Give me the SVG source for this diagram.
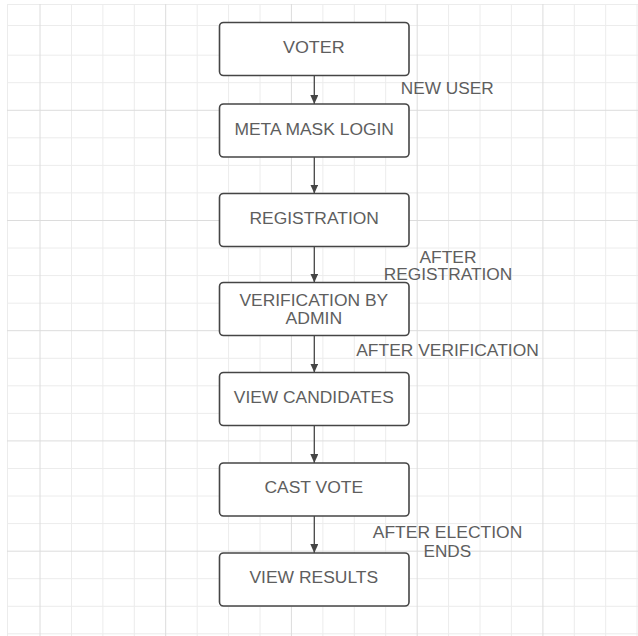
<svg xmlns="http://www.w3.org/2000/svg" width="638" height="636" viewBox="0 0 638 636">
<style>
.minor{stroke:#ececec;stroke-width:1}
.major{stroke:#dcdcdc;stroke-width:1}
.box{fill:#ffffff;stroke:#454545;stroke-width:1.6}
.t{font-family:"Liberation Sans",Arial,sans-serif;font-size:16px;fill:#5e5e5e;text-anchor:middle}
.conn{stroke:#454545;stroke-width:1.3;fill:none}
</style>
<defs>
<marker id="arr" markerUnits="userSpaceOnUse" markerWidth="10" markerHeight="10" refX="9" refY="4" orient="auto">
<path d="M0,0 L9,4 L0,8 z" fill="#454545"/>
</marker>
</defs>
<rect x="0" y="0" width="638" height="636" fill="#ffffff"/>
<g id="grid">
<g class="minor">
<line x1="7.5" y1="4" x2="7.5" y2="636"/>
<line x1="71.5" y1="4" x2="71.5" y2="636"/>
<line x1="102.9" y1="4" x2="102.9" y2="636"/>
<line x1="134.3" y1="4" x2="134.3" y2="636"/>
<line x1="197.2" y1="4" x2="197.2" y2="636"/>
<line x1="228.6" y1="4" x2="228.6" y2="636"/>
<line x1="260" y1="4" x2="260" y2="636"/>
<line x1="322.9" y1="4" x2="322.9" y2="636"/>
<line x1="354.3" y1="4" x2="354.3" y2="636"/>
<line x1="385.7" y1="4" x2="385.7" y2="636"/>
<line x1="448.6" y1="4" x2="448.6" y2="636"/>
<line x1="480" y1="4" x2="480" y2="636"/>
<line x1="511.4" y1="4" x2="511.4" y2="636"/>
<line x1="574.3" y1="4" x2="574.3" y2="636"/>
<line x1="605.7" y1="4" x2="605.7" y2="636"/>
<line x1="637" y1="4" x2="637" y2="636"/>
<line x1="7" y1="4.5" x2="638" y2="4.5"/>
<line x1="7" y1="25.5" x2="638" y2="25.5"/>
<line x1="7" y1="55.2" x2="638" y2="55.2"/>
<line x1="7" y1="82.7" x2="638" y2="82.7"/>
<line x1="7" y1="137.8" x2="638" y2="137.8"/>
<line x1="7" y1="165.4" x2="638" y2="165.4"/>
<line x1="7" y1="192.9" x2="638" y2="192.9"/>
<line x1="7" y1="248" x2="638" y2="248"/>
<line x1="7" y1="275.6" x2="638" y2="275.6"/>
<line x1="7" y1="303.2" x2="638" y2="303.2"/>
<line x1="7" y1="358.3" x2="638" y2="358.3"/>
<line x1="7" y1="385.8" x2="638" y2="385.8"/>
<line x1="7" y1="413.4" x2="638" y2="413.4"/>
<line x1="7" y1="468.5" x2="638" y2="468.5"/>
<line x1="7" y1="496" x2="638" y2="496"/>
<line x1="7" y1="523.6" x2="638" y2="523.6"/>
<line x1="7" y1="578.7" x2="638" y2="578.7"/>
<line x1="7" y1="606.3" x2="638" y2="606.3"/>
<line x1="7" y1="633.8" x2="638" y2="633.8"/>
</g>
<g class="major">
<line x1="40" y1="4" x2="40" y2="636"/>
<line x1="165.7" y1="4" x2="165.7" y2="636"/>
<line x1="291.4" y1="4" x2="291.4" y2="636"/>
<line x1="417.2" y1="4" x2="417.2" y2="636"/>
<line x1="542.9" y1="4" x2="542.9" y2="636"/>
<line x1="7" y1="110.3" x2="638" y2="110.3"/>
<line x1="7" y1="220.5" x2="638" y2="220.5"/>
<line x1="7" y1="330.7" x2="638" y2="330.7"/>
<line x1="7" y1="440.9" x2="638" y2="440.9"/>
<line x1="7" y1="551.2" x2="638" y2="551.2"/>
</g>
</g>
<g id="connectors">
<line class="conn" x1="314.3" y1="75.5" x2="314.3" y2="104" marker-end="url(#arr)"/>
<line class="conn" x1="314.3" y1="157" x2="314.3" y2="193.5" marker-end="url(#arr)"/>
<line class="conn" x1="314.3" y1="246.5" x2="314.3" y2="282.5" marker-end="url(#arr)"/>
<line class="conn" x1="314.3" y1="335.5" x2="314.3" y2="372.5" marker-end="url(#arr)"/>
<line class="conn" x1="314.3" y1="425.5" x2="314.3" y2="463" marker-end="url(#arr)"/>
<line class="conn" x1="314.3" y1="516" x2="314.3" y2="553" marker-end="url(#arr)"/>
</g>
<g id="labels">
<text class="t" x="447.3" y="94.3" textLength="93" lengthAdjust="spacingAndGlyphs">NEW USER</text>
<text class="t" x="448" y="262.7" textLength="57" lengthAdjust="spacingAndGlyphs">AFTER</text>
<text class="t" x="448" y="280" textLength="128.5" lengthAdjust="spacingAndGlyphs">REGISTRATION</text>
<text class="t" x="447.5" y="355.7" textLength="182.5" lengthAdjust="spacingAndGlyphs">AFTER VERIFICATION</text>
<text class="t" x="447.5" y="538.3" textLength="149.5" lengthAdjust="spacingAndGlyphs">AFTER ELECTION</text>
<text class="t" x="447.3" y="556.7" textLength="47.7" lengthAdjust="spacingAndGlyphs">ENDS</text>
</g>
<g id="voter">
<rect class="box" x="219.5" y="22.5" width="189.5" height="53" rx="4"/>
<text class="t" x="313.8" y="52.7" textLength="61.7" lengthAdjust="spacingAndGlyphs">VOTER</text>
</g>
<g id="metamask">
<rect class="box" x="219.5" y="104" width="189.5" height="53" rx="4"/>
<text class="t" x="314.2" y="135" textLength="159.5" lengthAdjust="spacingAndGlyphs">META MASK LOGIN</text>
</g>
<g id="registration">
<rect class="box" x="219.5" y="193.5" width="189.5" height="53" rx="4"/>
<text class="t" x="314.2" y="223.7" textLength="129.5" lengthAdjust="spacingAndGlyphs">REGISTRATION</text>
</g>
<g id="verification">
<rect class="box" x="219.5" y="282.5" width="189.5" height="53" rx="4"/>
<text class="t" x="313.8" y="306" textLength="148.7" lengthAdjust="spacingAndGlyphs">VERIFICATION BY</text>
<text class="t" x="313.8" y="324" textLength="56.7" lengthAdjust="spacingAndGlyphs">ADMIN</text>
</g>
<g id="candidates">
<rect class="box" x="219.5" y="372.5" width="189.5" height="53" rx="4"/>
<text class="t" x="313.8" y="402.7" textLength="160" lengthAdjust="spacingAndGlyphs">VIEW CANDIDATES</text>
</g>
<g id="castvote">
<rect class="box" x="219.5" y="463" width="189.5" height="53" rx="4"/>
<text class="t" x="313.8" y="493.3" textLength="98.7" lengthAdjust="spacingAndGlyphs">CAST VOTE</text>
</g>
<g id="results">
<rect class="box" x="219.5" y="553" width="189.5" height="53" rx="4"/>
<text class="t" x="313.8" y="583.3" textLength="128.7" lengthAdjust="spacingAndGlyphs">VIEW RESULTS</text>
</g>
</svg>
